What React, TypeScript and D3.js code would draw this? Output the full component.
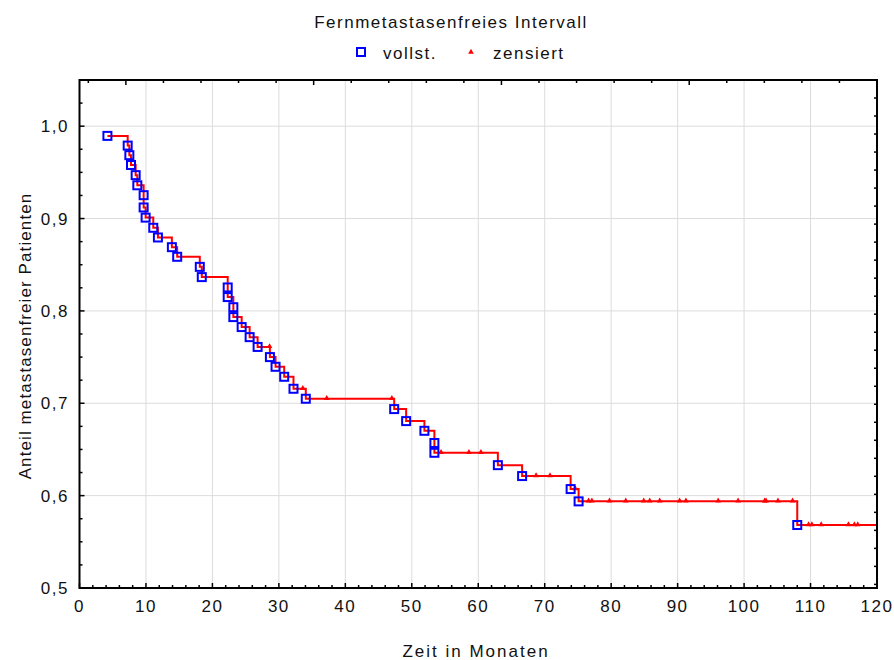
import React, { useRef, useEffect } from "react";
import * as d3 from "d3";

// Kaplan-Meier: Ereignisse (vollst.) – Zeit in Monaten und Anteil danach
const eventTimes = [
  4.2, 7.25, 7.5, 7.75, 8.45, 8.7, 9.65, 9.65, 9.95, 11.1, 11.8, 13.9, 14.7,
  18.1, 18.4, 22.3, 22.3, 23.15, 23.15, 24.4, 25.6, 26.8, 28.65, 29.5, 30.8,
  32.2, 34.05, 47.35, 49.15, 51.9, 53.4, 53.4, 62.95, 66.6, 73.9, 75.1, 108.0,
];
const eventSurv = [
  0.9895, 0.979, 0.9686, 0.958, 0.947, 0.936, 0.9253, 0.912, 0.901, 0.89,
  0.8795, 0.869, 0.8586, 0.8477, 0.8366, 0.8254, 0.815, 0.804, 0.7933, 0.7825,
  0.7716, 0.761, 0.75, 0.7395, 0.7287, 0.7157, 0.7049, 0.6937, 0.6807, 0.6702,
  0.657, 0.6464, 0.633, 0.6212, 0.6071, 0.5938, 0.5682,
];
// zensierte Beobachtungen
const censorTimes = [
  28.6, 33.6, 37.2, 47.0, 54.4, 58.6, 60.4, 68.7, 70.8, 74.6, 76.6, 77.1, 79.75,
  82.2, 84.9, 85.8, 87.3, 90.3, 91.25, 96.1, 99.1, 103.1, 103.3, 105.1, 107.3,
  109.7, 110.2, 111.6, 115.7, 116.6, 117.1,
];
const xTickValues = [0, 10, 20, 30, 40, 50, 60, 70, 80, 90, 100, 110, 120];
const yTickValues = [0.5, 0.6, 0.7, 0.8, 0.9, 1.0];

const font = "'Liberation Sans', Arial, sans-serif";

const App = () => {
  const ref = useRef<SVGSVGElement>(null);

  useEffect(() => {
    const svg = d3.select(ref.current);
    svg.selectAll("*").remove();

    const left = 79.5, right = 877, top = 80, bottom = 588;
    const x = d3.scaleLinear().domain([0, 120]).range([left, right]);
    const y = d3.scaleLinear().domain([0.5, 1.05]).range([bottom, top]);

    // gitter
    const grid = svg.append("g").attr("stroke", "#dcdcdc").attr("stroke-width", 1);
    grid.selectAll(".gx").data(xTickValues.slice(1, -1)).join("line")
      .attr("x1", (d) => x(d)).attr("x2", (d) => x(d))
      .attr("y1", top).attr("y2", bottom);
    grid.selectAll(".gy").data(yTickValues.slice(1)).join("line")
      .attr("x1", left).attr("x2", right)
      .attr("y1", (d) => y(d)).attr("y2", (d) => y(d));

    // Kurve
    const pts: [number, number][] = eventTimes.map((t, i) => [t, eventSurv[i]]);
    pts.push([120, eventSurv[eventSurv.length - 1]]);
    const line = d3.line<[number, number]>()
      .x((d) => x(d[0])).y((d) => y(d[1]))
      .curve(d3.curveStepAfter);
    svg.append("path").attr("d", line(pts)).attr("fill", "none")
      .attr("stroke", "#ff0000").attr("stroke-width", 2);

    // zensiert
    const bis = d3.bisector((d: number) => d).right;
    const levelAt = (t: number) => {
      const i = bis(eventTimes, t) - 1;
      return i < 0 ? 1 : eventSurv[i];
    };
    const tri = d3.symbol().type(d3.symbolTriangle).size(14);
    svg.append("g").selectAll("path").data(censorTimes).join("path")
      .attr("d", tri)
      .attr("transform", (d) => `translate(${x(d)},${y(levelAt(d)) - 0.5})`)
      .attr("fill", "#ff0000");

    // vollst.
    svg.append("g").selectAll("rect").data(pts.slice(0, -1)).join("rect")
      .attr("x", (d) => x(d[0]) - 4).attr("y", (d) => y(d[1]) - 4)
      .attr("width", 8).attr("height", 8)
      .attr("fill", "none").attr("stroke", "#0000ff").attr("stroke-width", 2);

    // Rahmen und Ticks
    const ax = svg.append("g").attr("stroke", "#000");
    ax.append("rect").attr("x", left).attr("y", top)
      .attr("width", right - left).attr("height", bottom - top)
      .attr("fill", "none").attr("stroke-width", 2);
    const xMinor = x.ticks(60);
    ax.selectAll(".xt").data(xMinor).join("line")
      .attr("x1", (d) => x(d)).attr("x2", (d) => x(d))
      .attr("y1", bottom).attr("y2", (d) => bottom - (d % 10 === 0 ? 5 : 3))
      .attr("stroke-width", 1.5);
    const yMinor = d3.range(0.5, 1.051, 0.025);
    ax.selectAll(".yt").data(yMinor).join("line")
      .attr("y1", (d) => y(d)).attr("y2", (d) => y(d))
      .attr("x1", left).attr("x2", (d, i) => left + (i % 4 === 0 ? 5 : 3))
      .attr("stroke-width", 1.5);
    // sekundäre Achsen (oben / rechts)
    const xTop = d3.scaleLinear().domain([-0.235, 21]).range([left, right]);
    ax.selectAll(".tt").data(d3.range(0, 22)).join("line")
      .attr("x1", (d) => xTop(d)).attr("x2", (d) => xTop(d))
      .attr("y1", top).attr("y2", (d) => top + (d % 5 === 1 ? 5 : 3))
      .attr("stroke-width", 1.5);
    const yRight = d3.scaleLinear().domain([0, 28.2]).range([top, bottom]);
    ax.selectAll(".rt").data(d3.range(1, 29)).join("line")
      .attr("y1", (d) => yRight(d)).attr("y2", (d) => yRight(d))
      .attr("x1", right).attr("x2", right - 3)
      .attr("stroke-width", 1.5);

    const txt = svg.append("g").attr("font-family", font).attr("font-size", 17)
      .attr("letter-spacing", 1.5).attr("fill", "#111");
    txt.selectAll(".xl").data(xTickValues).join("text")
      .attr("x", (d) => x(d)).attr("y", 612).attr("text-anchor", "middle")
      .text((d) => String(d));
    txt.selectAll(".yl").data(yTickValues).join("text")
      .attr("x", 69).attr("y", (d) => y(d) + 6).attr("text-anchor", "end")
      .text((d) => d.toFixed(1).replace(".", ","));

    txt.append("text").attr("x", 451).attr("y", 28).attr("text-anchor", "middle")
      .text("Fernmetastasenfreies Intervall");
    txt.append("text").attr("x", 476).attr("y", 657).attr("text-anchor", "middle")
      .attr("letter-spacing", 2).text("Zeit in Monaten");
    txt.append("text").attr("transform", "translate(31,336) rotate(-90)")
      .attr("text-anchor", "middle").attr("letter-spacing", 1.1)
      .text("Anteil metastasenfreier Patienten");

    // Legende
    svg.append("rect").attr("x", 357).attr("y", 48).attr("width", 8).attr("height", 8)
      .attr("fill", "none").attr("stroke", "#0000ff").attr("stroke-width", 2);
    txt.append("text").attr("x", 383).attr("y", 59).text("vollst.");
    svg.append("path").attr("d", tri).attr("transform", "translate(471,52)")
      .attr("fill", "#ff0000");
    txt.append("text").attr("x", 493).attr("y", 59).text("zensiert");
  }, []);

  return (
    <svg ref={ref} width={894} height={660}
      style={{ position: "absolute", left: 0, top: 0, background: "#fff" }} />
  );
};

export default App;
